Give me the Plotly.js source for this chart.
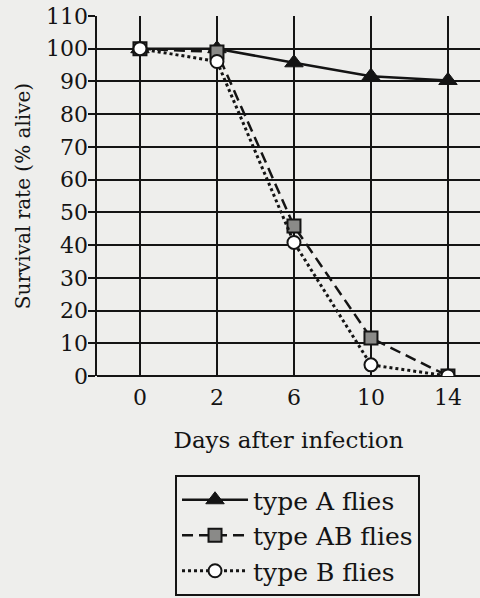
<!DOCTYPE html>
<html>
<head>
<meta charset="utf-8">
<script src="https://cdn.plot.ly/plotly-3.0.1.min.js"></script>
<style>html,body{margin:0;padding:0;background:#eeeeec;}#chart{width:480px;height:598px;}</style>
</head>
<body>
<div id="chart"></div>
<script>
var days = ['0', '2', '6', '10', '14'];
var typeA = [100, 100, 95.7, 91.6, 90.3];
var typeAB = [100, 99, 45.8, 11.6, 0];
var typeB = [100, 96.1, 40.8, 3.4, 0];
var seriesNames = ['type A flies', 'type AB flies', 'type B flies'];
var yTicks = [0, 10, 20, 30, 40, 50, 60, 70, 80, 90, 100, 110];

var ink = '#141414';
var serif = 'DejaVu Serif';

var traces = [
  {
    x: days, y: typeA, name: seriesNames[0], type: 'scatter', mode: 'lines+markers',
    legendgroup: 'a',
    line: {color: ink, width: 2.5},
    marker: {symbol: 'triangle-up', size: 16, color: ink, line: {color: ink, width: 1}}
  },
  {
    x: days, y: typeAB, name: seriesNames[1], type: 'scatter', mode: 'lines+markers',
    legendgroup: 'b',
    line: {color: ink, width: 2.5, dash: '11px,6px'},
    marker: {symbol: 'square', size: 13, color: '#8a8a88', line: {color: ink, width: 2}}
  },
  {
    x: days, y: typeB, name: seriesNames[2], type: 'scatter', mode: 'lines+markers',
    legendgroup: 'c',
    line: {color: ink, width: 3, dash: 'dot'},
    marker: {symbol: 'circle', size: 13, color: '#ffffff', line: {color: ink, width: 2}}
  }
];

var layout = {
  width: 480, height: 598,
  paper_bgcolor: '#eeeeec', plot_bgcolor: '#eeeeec',
  margin: {l: 97, r: 0, t: 16, b: 222, autoexpand: false},
  font: {family: serif, color: ink, size: 22},
  showlegend: true,
  xaxis: {
    type: 'category', range: [-0.558, 4.416],
    showgrid: true, gridcolor: ink, gridwidth: 2,
    showline: false, zeroline: false, ticks: '',
    ticklabelstandoff: 6,
    tickfont: {family: serif, size: 22, color: ink},
    title: {text: 'Days after infection', font: {family: serif, size: 23, color: ink}, standoff: 22}
  },
  yaxis: {
    range: [0, 110], tickvals: yTicks, ticktext: yTicks.map(String),
    showgrid: true, gridcolor: ink, gridwidth: 2,
    showline: true, linecolor: ink, linewidth: 2.5,
    zeroline: true, zerolinecolor: ink, zerolinewidth: 2.5,
    ticks: 'outside', ticklen: 7, tickwidth: 2, tickcolor: ink,
    ticklabelstandoff: -5,
    tickfont: {family: serif, size: 22, color: ink},
    title: {text: 'Survival rate (% alive)', font: {family: serif, size: 20, color: ink}, standoff: 10}
  },
  legend: {
    x: 0.2037, xanchor: 'left', y: -0.275, yanchor: 'top',
    bgcolor: 'rgba(0,0,0,0)', bordercolor: ink, borderwidth: 2,
    font: {family: serif, size: 25, color: ink},
    itemwidth: 66, tracegroupgap: 3, traceorder: 'normal'
  }
};

Plotly.newPlot('chart', traces, layout, {displayModeBar: false, staticPlot: true});
</script>
</body>
</html>
